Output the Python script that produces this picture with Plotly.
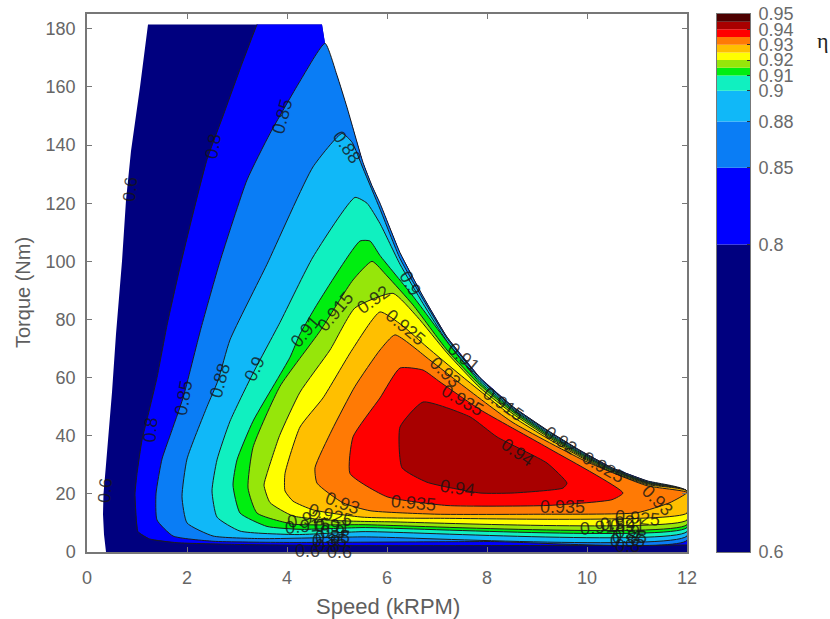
import plotly.graph_objects as go

# Efficiency levels and colours (colour bar bands)
levels = [0.6, 0.8, 0.85, 0.88, 0.9, 0.91, 0.915, 0.92, 0.925, 0.93, 0.935, 0.94, 0.945, 0.95]
band_colors = ["#00007f", "#0000ff", "#0a7df5", "#10b8f8", "#10f0c0", "#00ee10", "#96e60a", "#ffff00",
               "#ffbf00", "#ff7a05", "#ff0000", "#a80000", "#4d0000"]
cbar_ticks = [0.6, 0.8, 0.85, 0.88, 0.9, 0.91, 0.92, 0.93, 0.94, 0.95]
speed_ticks = [0, 2, 4, 6, 8, 10, 12]
torque_ticks = [0, 20, 40, 60, 80, 100, 120, 140, 160, 180]
speed_title = "Speed (kRPM)"
torque_title = "Torque (Nm)"
eta_title = "η"

# Operating envelope (outer limit of the map)
left_speed = [0.38, 0.34, 0.32, 0.33, 0.37, 0.43, 0.50, 0.58, 0.70, 0.78, 0.88, 1.06, 1.22]
left_torque = [0, 6, 13, 20, 28, 40, 55, 75, 100, 121, 138, 160, 181.5]
env_speed = [4.7, 4.76, 5.0, 5.2, 5.52, 5.7, 5.86, 6.26, 6.72, 7.2, 7.86, 8.52, 9.2, 9.86, 10.5, 11.2, 12]
env_torque = [181.5, 175, 164, 153, 134, 126, 120, 103, 88, 74, 60, 50, 42, 35, 29, 24.5, 21]

# Iso-efficiency curves: speed (kRPM), torque (Nm)
c80_s = [3.4, 3.1, 2.72, 2.4, 2.1, 1.86, 1.6, 1.4, 1.22, 1.1, 1.0, 0.96, 0.98, 1.02, 1.25, 1.8, 3, 5, 8, 12]
c80_t = [181.5, 168, 150, 135, 115, 98, 78, 60, 47, 38.5, 27, 20, 13, 7, 4.5, 3.2, 2.6, 2.2, 2.2, 2.4]

c85_s = [4.76, 4.26, 3.66, 3.2, 2.66, 2.28, 1.92, 1.66, 1.5, 1.38, 1.4, 1.72, 2.52, 4, 8, 12]
c85_t = [175, 162, 144, 128, 100, 77, 53, 40, 32, 20, 11, 5.5, 3.7, 3.3, 3.6, 4]

c88_s = [5.1, 4.52, 3.6, 2.86, 2.62, 2.4, 2.0, 1.9, 2.0, 2.52, 3.5, 5.5, 12, 12, 11.2, 10.5, 9.86, 9.2, 8.52, 7.86, 7.2, 6.72, 6.26, 5.86, 5.52, 5.3, 5.1]
c88_t = [144, 132.5, 99, 73, 59, 50, 32, 19, 10, 5.5, 4.6, 5.2, 5.5, 20.8, 24.2, 28.7, 34.7, 41.7, 49.7, 59.7, 73.5, 87, 101, 118, 132, 141, 144]

c90_s = [5.36, 4.52, 3.86, 3.32, 2.86, 2.6, 2.5, 2.6, 3.06, 4.2, 5.5, 12, 12, 11.2, 10.5, 9.86, 9.2, 8.52, 7.86, 7.2, 6.72, 6.26, 5.86, 5.6, 5.36]
c90_t = [122, 101.5, 79, 61.5, 45, 31.7, 21, 12, 7.2, 6, 7, 7, 20.9, 24, 28.4, 34.3, 41.2, 49.2, 59, 72.5, 85.5, 99, 113, 120, 122]

c91_s = [5.66, 5.46, 4.62, 4.26, 4.06, 3.32, 3.0, 2.92, 3.06, 3.6, 4.26, 5.5, 12, 12, 11.2, 10.5, 9.86, 9.2, 8.52, 7.86, 7.26, 6.52, 5.86, 5.66]
c91_t = [107, 107, 85.7, 75, 67, 45, 31.7, 23, 13.4, 8.8, 7.8, 8.4, 8.4, 20.9, 23.9, 28.2, 34, 40.8, 48.8, 58.3, 71, 88, 102, 107]

c915_s = [5.7, 5.32, 4.66, 3.86, 3.32, 3.22, 3.4, 4.12, 5.5, 12, 12, 11.2, 10.5, 9.86, 9.2, 8.52, 7.86, 7.2, 6.52, 6.0, 5.7]
c915_t = [100, 93.6, 76, 57, 36, 22, 13.4, 9.6, 9.4, 9.4, 20.9, 23.7, 27.9, 33.6, 40.3, 48.2, 57.5, 69.5, 85, 95, 100]

c92_s = [6.12, 5.36, 4.86, 4.26, 3.85, 3.6, 3.54, 3.66, 4.12, 5.0, 6.0, 12, 12, 11.2, 10.5, 9.86, 9.2, 8.52, 7.86, 7.2, 6.6, 6.12]
c92_t = [89, 84, 69.5, 55, 40, 27, 23, 17, 12.4, 10.8, 10.4, 11, 20.95, 23.5, 27.5, 33.2, 39.8, 47.5, 56.5, 68.5, 81, 89]

c925_s = [5.86, 5.3, 4.72, 4.26, 3.96, 3.96, 4.12, 4.52, 5.5, 7, 12, 12, 11.2, 10.5, 9.86, 9.2, 8.52, 7.46, 6.8, 6.3, 5.86]
c925_t = [82.6, 69.5, 53, 43, 27, 21, 17.5, 14.5, 12, 11.6, 13.4, 21, 23.2, 27.2, 32.8, 39.2, 46.5, 61, 70.5, 78, 82.6]

c93_s = [6.16, 5.86, 5.36, 4.9, 4.56, 4.6, 5.12, 5.66, 7, 9, 11, 11.66, 12, 11.2, 10, 8.52, 7.46, 6.86, 6.16]
c93_t = [74.7, 69.5, 57, 42, 29, 23.7, 16.9, 14.2, 13, 13, 13.5, 17, 20.5, 22.8, 31, 44.5, 58, 66, 74.7]

c935_s = [6.26, 6.72, 7.06, 7.86, 9.2, 10.72, 10.5, 9.2, 7.2, 6.0, 5.26, 5.32, 5.86, 6.26]
c935_t = [63.3, 62.6, 58.5, 49, 36, 20.3, 18, 16, 16, 19, 27, 39.6, 53, 63.3]

c94_s = [6.72, 6.26, 6.3, 6.8, 7.86, 8.52, 9.52, 9.6, 9.2, 8.2, 7.66, 6.72]
c94_t = [51.6, 43, 29, 24, 20.3, 20.3, 22, 23.7, 30.6, 39.6, 46.5, 51.6]

# Contour labels: text, speed, torque, rotation
label_text = ["0.6", "0.8", "0.85", "0.88", "0.9", "0.91", "0.915", "0.92", "0.925", "0.93", "0.935", "0.94", "0.94",
              "0.935", "0.935", "0.93", "0.93", "0.91", "0.915", "0.92", "0.925",
              "0.6", "0.8", "0.85", "0.88", "0.9",
              "0.925", "0.92", "0.915", "0.91", "0.9", "0.88", "0.85", "0.8", "0.6", "0.6", "0.6",
              "0.925", "0.92", "0.915", "0.91", "0.9", "0.88", "0.85", "0.8", "0.6", "0.6"]
label_speed = [0.86, 2.52, 3.9, 5.2, 6.46, 4.36, 4.96, 5.72, 6.36, 7.16, 7.5, 8.6, 7.4,
               6.52, 9.5, 5.1, 11.4, 7.52, 8.32, 9.46, 10.32,
               0.36, 1.27, 1.93, 2.65, 3.35,
               4.86, 4.35, 4.4, 4.9, 4.9, 4.9, 4.85, 4.8, 4.4, 4.9, 5.05,
               11.0, 10.6, 10.3, 10.8, 10.8, 10.85, 10.8, 10.8, 10.7, 11.0]
label_torque = [124.6, 139.4, 149.7, 139.5, 92.6, 75.7, 82.6, 86.7, 77.4, 62, 52.3, 34.4, 22,
                16.9, 15.5, 16.9, 17.9, 67, 51, 38.5, 29.3,
                21, 42, 53, 59, 63,
                12.7, 11.5, 8.8, 8.8, 7, 5.3, 3.7, 2.2, 0.5, -1, 0,
                11.7, 10, 8.6, 8.8, 7, 5.3, 3.7, 2.2, -0.5, -1.5]
label_angle = [-85, -80, -75, 55, 60, -50, -50, -35, 40, 45, 30, 35, 8,
               5, 0, 20, 45, 40, 35, 35, 30,
               -85, -85, -80, -75, -65,
               15, -10, -5, 0, 0, 0, 0, 0, 0, 0, 0,
               5, -5, -5, 0, 0, 0, 0, 0, 0, 0]

FONT = "Liberation Sans, Arial, sans-serif"
LINE = "#1c1c1c"
AXC = "#777777"
TXT = "#666666"
W, H = 830, 619
SMOOTH = dict(shape="spline", smoothing=0.5)

fig = go.Figure()

# Base region and lowest band have no outline along the envelope
base_s = left_speed + env_speed + [12]
base_t = left_torque + env_torque + [0]
fig.add_trace(go.Scatter(x=base_s, y=base_t, fill="toself", fillcolor=band_colors[0], mode="lines",
                         line=dict(width=0, color=band_colors[0]), hoverinfo="skip", showlegend=False))
fig.add_trace(go.Scatter(x=c80_s + env_speed[::-1], y=c80_t + env_torque[::-1], fill="toself",
                         fillcolor=band_colors[1], mode="lines", line=dict(width=0, color=band_colors[1]),
                         hoverinfo="skip", showlegend=False))
fig.add_trace(go.Scatter(x=c80_s, y=c80_t, mode="lines", line=dict(color=LINE, width=1, **SMOOTH),
                         name="0.8", showlegend=False))

env_low = [(s, t) for s, t in zip(env_speed, env_torque) if t <= 175]
closed = [
    (0.85, c85_s + [s for s, _ in env_low[::-1]], c85_t + [t for _, t in env_low[::-1]], band_colors[2]),
    (0.88, c88_s, c88_t, band_colors[3]),
    (0.9, c90_s, c90_t, band_colors[4]),
    (0.91, c91_s, c91_t, band_colors[5]),
    (0.915, c915_s, c915_t, band_colors[6]),
    (0.92, c92_s, c92_t, band_colors[7]),
    (0.925, c925_s, c925_t, band_colors[8]),
    (0.93, c93_s, c93_t, band_colors[9]),
    (0.935, c935_s, c935_t, band_colors[10]),
    (0.94, c94_s, c94_t, band_colors[11]),
]
for lev, xs, ys, col in closed:
    fig.add_trace(go.Scatter(x=xs, y=ys, fill="toself", fillcolor=col, mode="lines",
                             line=dict(color=LINE, width=1, **SMOOTH), name=str(lev), showlegend=False))

# Colour bar as stacked bands on its own value axis
for lo, hi, col in zip(levels[:-1], levels[1:], band_colors):
    fig.add_trace(go.Bar(x=[0], y=[hi - lo], base=[lo], marker=dict(color=col, line=dict(width=0)), width=1,
                         xaxis="x2", yaxis="y2", showlegend=False, hoverinfo="skip"))

annotations = [dict(x=x, y=y, text=t, textangle=a, showarrow=False, xref="x", yref="y",
                    font=dict(family=FONT, size=18, color="rgba(20,20,20,0.8)"))
               for t, x, y, a in zip(label_text, label_speed, label_torque, label_angle)]
annotations += [
    dict(x=815 / W, y=1 - 41 / H, xref="paper", yref="paper", text=eta_title, showarrow=False,
         xanchor="left", yanchor="middle", font=dict(family="Liberation Serif, serif", size=22, color="#222222")),
    dict(x=388 / W, y=1 - 606 / H, xref="paper", yref="paper", text=speed_title, showarrow=False,
         yanchor="middle", font=dict(family=FONT, size=22, color="#5e5e5e")),
    dict(x=23 / W, y=1 - 293 / H, xref="paper", yref="paper", text=torque_title, showarrow=False, textangle=-90,
         xanchor="center", yanchor="middle", font=dict(family=FONT, size=20, color="#5e5e5e")),
]

fig.update_layout(
    width=W, height=H, margin=dict(l=0, r=0, t=0, b=0), autosize=False,
    paper_bgcolor="white", plot_bgcolor="white", barmode="overlay", showlegend=False,
    font=dict(family=FONT, size=18, color=TXT),
    xaxis=dict(domain=[87 / W, 687 / W], range=[0, 12], tickvals=speed_ticks, ticks="inside", ticklen=5,
               tickcolor=AXC, showline=True, linecolor=AXC, linewidth=1.5, mirror="allticks", showgrid=False,
               zeroline=False, automargin=False, tickfont=dict(size=18, color=TXT), ticklabelstandoff=9),
    yaxis=dict(domain=[1 - 552 / H, 1 - 14 / H], range=[0, 185.1], tickvals=torque_ticks, ticks="inside", ticklen=5,
               tickcolor=AXC, showline=True, linecolor=AXC, linewidth=1.5, mirror="allticks", showgrid=False,
               zeroline=False, automargin=False, tickfont=dict(size=18, color=TXT), ticklabelstandoff=6),
    xaxis2=dict(domain=[717 / W, 750 / W], range=[-0.5, 0.5], anchor="y2", showticklabels=False, ticks="",
                showgrid=False, zeroline=False, showline=True, linecolor=AXC, mirror=True, automargin=False),
    yaxis2=dict(domain=[1 - 552 / H, 1 - 14 / H], range=[0.6, 0.95], anchor="x2", side="right", tickvals=cbar_ticks,
                ticktext=[f"{v:g}" for v in cbar_ticks], ticks="inside", ticklen=3, tickcolor="#333333",
                showgrid=False, zeroline=False, showline=True, linecolor=AXC, mirror=True, automargin=False,
                tickfont=dict(size=18, color="#6a6a6a"), ticklabelstandoff=4),
    annotations=annotations,
)

fig.write_html("out.html", config=dict(displayModeBar=False),
               post_script="document.body.style.margin='0';document.body.style.overflow='hidden';")
